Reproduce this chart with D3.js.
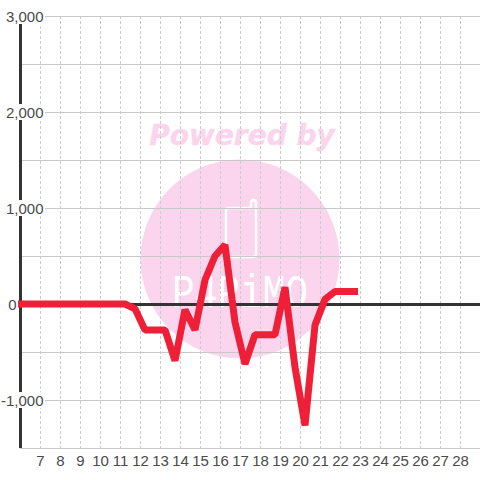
<!DOCTYPE html>
<html><head><meta charset="utf-8">
<style>html,body{margin:0;padding:0;background:#fff}svg{display:block}text{font-family:"Liberation Sans",sans-serif}</style>
<script src="https://cdnjs.cloudflare.com/ajax/libs/d3/7.8.5/d3.min.js"></script></head>
<body><div id="c"></div>
<script>
const dayTicks=[7,8,9,10,11,12,13,14,15,16,17,18,19,20,21,22,23,24,25,26,27,28];
const valueTicks=[3000,2000,1000,0,-1000];
const gridValues=[3000,2500,2000,1500,1000,500,0,-500,-1000,-1500];
const lineDays=[5.9,11.25,11.75,12.25,13.25,13.75,14.25,14.75,15.25,15.75,16.25,16.75,17.25,17.75,18.75,19.25,19.75,20.25,20.75,21.25,21.75,22.25,22.9];
const lineValues=[0,0,-50,-270,-270,-590,-60,-270,250,500,615,-190,-625,-320,-320,175,-660,-1265,-220,50,130,130,130];

const svg=d3.select("#c").append("svg").attr("width",480).attr("height",480);
const x=d3.scaleLinear().domain([6,29]).range([20,480]);
const y=d3.scaleLinear().domain([3000,-1500]).range([16,448]);

// watermark
const wm=svg.append("g");
wm.append("text").attr("x",242).attr("y",145).attr("text-anchor","middle")
  .style("font-family","'DejaVu Sans'").style("font-weight","bold").style("font-style","italic")
  .style("font-size","28px").attr("fill","#fcd5ec").attr("stroke","#fcd5ec").attr("stroke-width",.4).text("Powered by");
wm.append("circle").attr("cx",240).attr("cy",259).attr("r",99.5).attr("fill","#fbd5ee");
wm.append("path").attr("d","M229 208H251V203Q251 200 253.500 200Q256 200 256 203V254Q256 257 253 257H229Q226 257 226 254V211Q226 208 229 208Z")
  .attr("fill","none").attr("stroke","#fff").attr("stroke-width",2.4);
wm.append("text").attr("x",240).attr("y",307).attr("text-anchor","middle")
  .style("font-family","'Liberation Mono'").style("font-size","46px")
  .attr("textLength",136).attr("lengthAdjust","spacingAndGlyphs").attr("fill","#fff").text("P4PiMO");

// grid
svg.append("g").selectAll("line").data(dayTicks).join("line")
  .attr("x1",d=>x(d)+.5).attr("x2",d=>x(d)+.5).attr("y1",16).attr("y2",448)
  .attr("stroke","#ccc").attr("stroke-dasharray","3,2");
svg.append("g").selectAll("line").data(gridValues).join("line")
  .attr("x1",20).attr("x2",480).attr("y1",d=>y(d)+.5).attr("y2",d=>y(d)+.5)
  .attr("stroke","#c8c8c8").attr("stroke-width",1);

// axes
svg.append("line").attr("x1",x(6)+.5).attr("x2",x(6)+.5).attr("y1",y(3000)).attr("y2",y(-1500))
  .attr("stroke","#333").attr("stroke-width",3);
svg.append("line").attr("x1",20).attr("x2",480).attr("y1",y(0)+.5).attr("y2",y(0)+.5)
  .attr("stroke","#333").attr("stroke-width",3);

// y labels with white backing
const fmt=d=>d3.format(",")(d).replace("\u2212","-");
const yl=svg.append("g");
yl.selectAll("rect").data(valueTicks).join("rect")
  .attr("x",d=>d===0?7:(d===-1000?1:5)).attr("y",d=>y(d)-8)
  .attr("width",d=>d===0?10:(d===-1000?44:40)).attr("height",16).attr("fill","#fff");
yl.selectAll("text").data(valueTicks).join("text")
  .attr("x",d=>d===0?16.500:43.500).attr("y",d=>y(d)+5.500).attr("text-anchor","end")
  .attr("fill","#4a4a4a").style("font-size","15px").text(d=>fmt(d));

// x labels
svg.append("g").selectAll("text").data(dayTicks).join("text")
  .attr("x",d=>x(d)+.5).attr("y",466).attr("text-anchor","middle")
  .attr("fill","#4a4a4a").style("font-size","15px").text(d=>d);

// series
const line=d3.line().x((d,i)=>x(lineDays[i])).y(d=>y(d));
svg.append("path").attr("d",line(lineValues)).attr("fill","none")
  .attr("stroke","#f01f38").attr("stroke-width",7).attr("stroke-linejoin","bevel");
</script></body></html>
